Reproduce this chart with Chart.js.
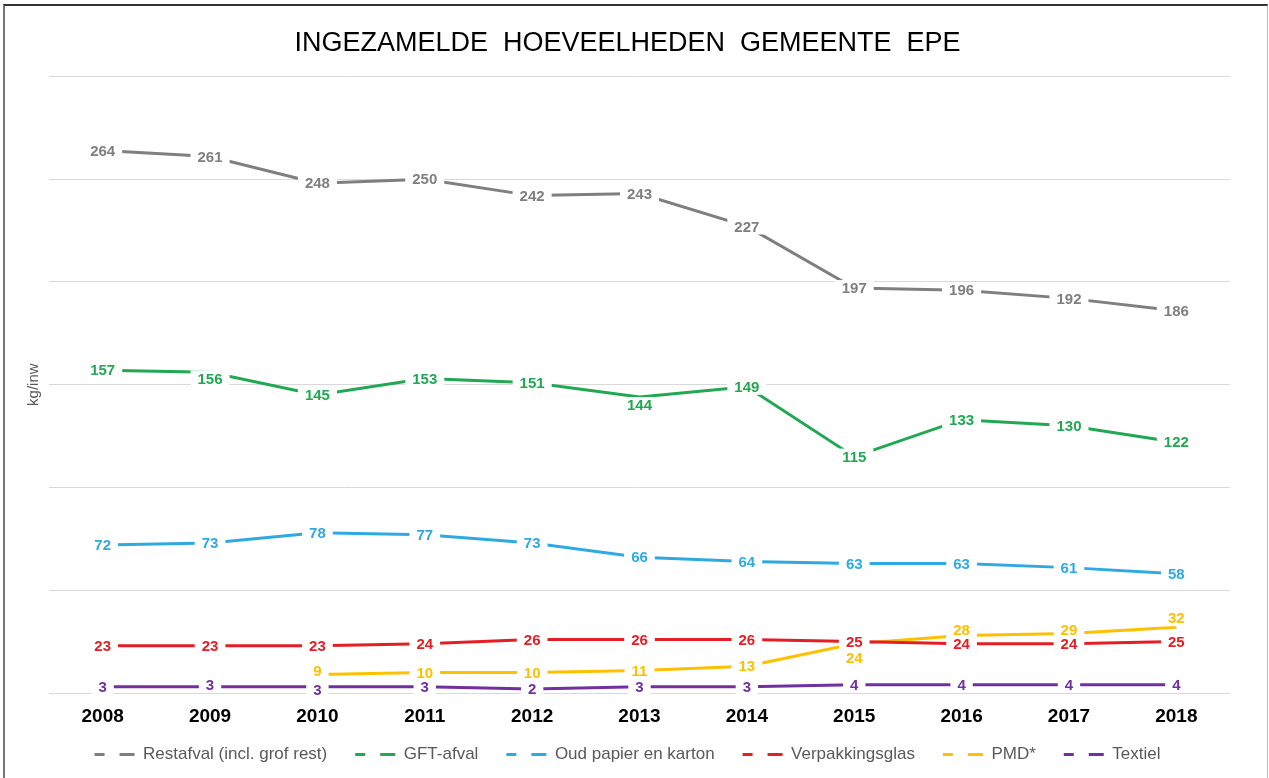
<!DOCTYPE html>
<html>
<head>
<meta charset="utf-8">
<script src="https://cdn.jsdelivr.net/npm/chart.js@4/dist/chart.umd.min.js"></script>
<style>
  html, body { margin: 0; padding: 0; background: #fff; }
  #wrap { position: relative; width: 1269px; height: 778px; }
  #frame {
    position: absolute; left: 3px; top: 4px; right: 1px; bottom: -4px;
    border-top: 2px solid #333; border-left: 2px solid #777; border-right: 1px solid #bbb;
    pointer-events: none;
  }
</style>
</head>
<body>
<div id="wrap">
  <canvas id="chart" width="1269" height="778"></canvas>
  <div id="frame"></div>
</div>
<script>
// ========== DATA ==========
const years = ['2008', '2009', '2010', '2011', '2012', '2013', '2014', '2015', '2016', '2017', '2018'];

const restafval = [264, 261, 248, 250, 242, 243, 227, 197, 196, 192, 186];
const gftAfval = [157, 156, 145, 153, 151, 144, 149, 115, 133, 130, 122];
const papierKarton = [72, 73, 78, 77, 73, 66, 64, 63, 63, 61, 58];
const verpakkingsglas = [23, 23, 23, 24, 26, 26, 26, 25, 24, 24, 25];
const pmd = [null, null, 9, 10, 10, 11, 13, 24, 28, 29, 32];
const textiel = [3, 3, 3, 3, 2, 3, 3, 4, 4, 4, 4];

const seriesNames = ['Restafval (incl. grof rest)', 'GFT-afval', 'Oud papier en karton', 'Verpakkingsglas', 'PMD*', 'Textiel'];
const seriesColors = ['#7f7f7f', '#21a852', '#2eaae1', '#e31e25', '#ffc000', '#7030a0'];

// small label nudges (px) where the original moved labels off the line
const labelNudge = {
  1: { 1: 6, 5: 8 },
  4: { 2: -4, 7: 14, 8: -6, 9: -4, 10: -9 },
  5: { 1: -2, 2: 3 }
};

// ========== PLUGINS ==========
const valueLabels = {
  id: 'valueLabels',
  afterDatasetsDraw(chart) {
    const ctx = chart.ctx;
    ctx.save();
    ctx.font = 'bold 15px "Liberation Sans", Arial, sans-serif';
    ctx.textAlign = 'center';
    ctx.textBaseline = 'middle';
    chart.data.datasets.forEach((ds, di) => {
      const meta = chart.getDatasetMeta(di);
      meta.data.forEach((pt, i) => {
        const v = ds.data[i];
        if (v === null || v === undefined) return;
        const dy = (labelNudge[di] && labelNudge[di][i]) || 0;
        const x = pt.x, y = pt.y + dy;
        const txt = String(v);
        const w = ctx.measureText(txt).width;
        ctx.fillStyle = '#fff';
        ctx.fillRect(x - w / 2 - 7, y - 8, w + 14, 16);
        ctx.fillStyle = ds.borderColor;
        ctx.fillText(txt, x, y + 1);
      });
    });
    ctx.restore();
  }
};

// the x axis box is squeezed so the plot reaches lower; widen its clip area again
const xLabelRoom = {
  id: 'xLabelRoom',
  afterLayout(chart) {
    const s = chart.scales.x;
    s.bottom = s.top + 40;
  }
};

const allSeries = [restafval, gftAfval, papierKarton, verpakkingsglas, pmd, textiel];

new Chart(document.getElementById('chart'), {
  type: 'line',
  data: {
    labels: years,
    datasets: allSeries.map((d, i) => ({
      label: seriesNames[i],
      data: d,
      borderColor: seriesColors[i],
      backgroundColor: seriesColors[i],
      borderWidth: 3,
      pointRadius: 0,
      tension: 0,
      spanGaps: false
    }))
  },
  options: {
    responsive: false,
    animation: false,
    layout: { padding: { left: 25, right: 39, top: 23, bottom: 5 } },
    plugins: {
      title: {
        display: true,
        text: 'INGEZAMELDE  HOEVEELHEDEN  GEMEENTE  EPE',
        color: '#000',
        font: { family: '"Liberation Sans", Arial, sans-serif', size: 27, weight: 'normal' },
        padding: { top: 4, bottom: 17 }
      },
      legend: {
        position: 'bottom',
        labels: {
          usePointStyle: true,
          pointStyleWidth: 40,
          color: '#595959',
          font: { family: '"Liberation Sans", Arial, sans-serif', size: 17 },
          padding: 28,
          generateLabels(chart) {
            return chart.data.datasets.map((ds, i) => ({
              text: ds.label,
              fillStyle: ds.borderColor,
              strokeStyle: ds.borderColor,
              fontColor: '#595959',
              lineWidth: 3,
              lineDash: [10, 15, 15],
              pointStyle: 'line',
              datasetIndex: i
            }));
          }
        }
      },
      tooltip: { enabled: false }
    },
    scales: {
      x: {
        offset: true,
        grid: { display: false, drawTicks: false },
        border: { display: false },
        ticks: {
          color: '#000',
          padding: 12,
          font: { family: '"Liberation Sans", Arial, sans-serif', size: 19, weight: 'bold' }
        },
        afterFit(scale) {
          scale.height = 25;
        }
      },
      y: {
        min: 0,
        max: 300,
        ticks: { display: false, stepSize: 50 },
        grid: { color: '#d9d9d9', drawTicks: false },
        border: { display: false },
        title: {
          display: true,
          text: 'kg/inw',
          color: '#595959',
          font: { family: '"Liberation Sans", Arial, sans-serif', size: 15 },
          padding: { top: 0, bottom: 6 }
        }
      }
    }
  },
  plugins: [valueLabels, xLabelRoom]
});
</script>
</body>
</html>
